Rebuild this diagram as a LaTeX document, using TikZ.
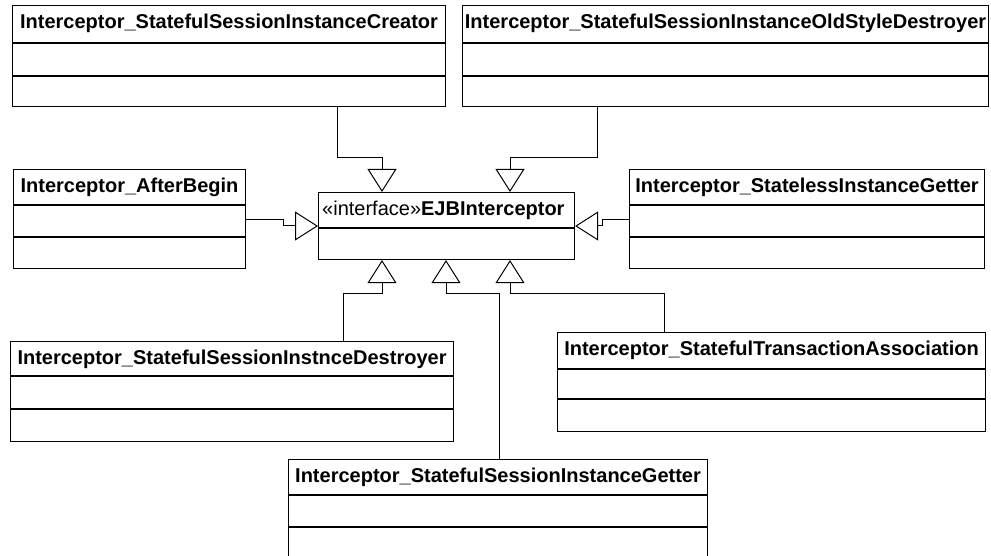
\documentclass[tikz,border=0pt]{standalone}
\usepackage{fontspec}
\setmainfont{Liberation Sans}
\usetikzlibrary{arrows.meta}

\tikzset{
  classbox/.style={draw, line width=1.1pt, inner sep=0pt, fill=white},
  classrule/.style={line width=1.1pt},
  classtitle/.style={anchor=base, inner sep=0pt, font=\fontsize{20}{24}\selectfont\bfseries},
  realizes/.style={line width=1pt, -{Triangle[open, length=23pt, width=29pt]}},
}

% #1 name, #2 left, #3 top, #4 width, #5 height,
% #6 first rule, #7 second rule (empty for none), #8 title
\newcommand\umlclass[8]{%
  \node[classbox, anchor=north west, minimum width=#4pt, minimum height=#5pt] (#1) at (#2,#3) {};
  \draw[classrule] (#1.west |- 0,#6) -- (#1.east |- 0,#6);
  \if\relax\detokenize{#7}\relax\else
    \draw[classrule] (#1.west |- 0,#7) -- (#1.east |- 0,#7);
  \fi
  \path (#1.north) ++(0,23.7) node[classtitle] (#1-title) {#8};
}

\begin{document}
\begin{tikzpicture}[x=1pt, y=-1pt]
  \useasboundingbox[fill=white] (0,0) rectangle (991,556);

  % classes
  \umlclass{cre}{12}{5}{433}{101}{43}{76}{Interceptor\_StatefulSessionInstanceCreator}
  \umlclass{old}{462}{5}{526}{101}{43}{76}{Interceptor\_StatefulSessionInstanceOldStyleDestroyer}
  \umlclass{ab}{13}{169}{232}{99}{205}{237}{Interceptor\_AfterBegin}
  \umlclass{st}{629}{169}{355}{99}{205}{237}{Interceptor\_StatelessInstanceGetter}
  \umlclass{des}{10}{341}{443}{100}{376}{409}{Interceptor\_StatefulSessionInstnceDestroyer}
  \umlclass{tr}{557}{332}{428}{99}{369}{399}{Interceptor\_StatefulTransactionAssociation}
  \umlclass{get}{288}{459}{419}{101}{495}{527}{Interceptor\_StatefulSessionInstanceGetter}

  % the interface
  \node[classbox, anchor=north west, minimum width=256pt, minimum height=67pt] (iface) at (318,192) {};
  \draw[classrule] (iface.west |- 0,228) -- (iface.east |- 0,228);
  \node[anchor=base west, inner sep=0pt, font=\fontsize{20}{24}\selectfont] (iface-title)
    at (322,215.7) {«interface»\textbf{EJBInterceptor}};

  % bend points of the connectors
  \coordinate (creA) at (337,158);
  \coordinate (creB) at (382,158);
  \coordinate (oldA) at (597,158);
  \coordinate (oldB) at (510,158);
  \coordinate (abB)  at (283,226);
  \coordinate (stB)  at (602,226);
  \coordinate (desA) at (343,293);
  \coordinate (desB) at (382,293);
  \coordinate (getA) at (499,293);
  \coordinate (getB) at (446,293);
  \coordinate (trA)  at (664,293);
  \coordinate (trB)  at (510,293);

  % realizations
  \draw[realizes] (cre.south -| creA) |- (creB) -- (iface.north -| creB);
  \draw[realizes] (old.south -| oldA) |- (oldB) -- (iface.north -| oldB);
  \draw[realizes] (ab.east) -| (abB) -- (iface.west |- abB);
  \draw[realizes] (st.west) -| (stB) -- (iface.east |- stB);
  \draw[realizes] (des.north -| desA) |- (desB) -- (iface.south -| desB);
  \draw[realizes] (get.north -| getA) |- (getB) -- (iface.south -| getB);
  \draw[realizes] (tr.north -| trA) |- (trB) -- (iface.south -| trB);
\end{tikzpicture}
\end{document}
